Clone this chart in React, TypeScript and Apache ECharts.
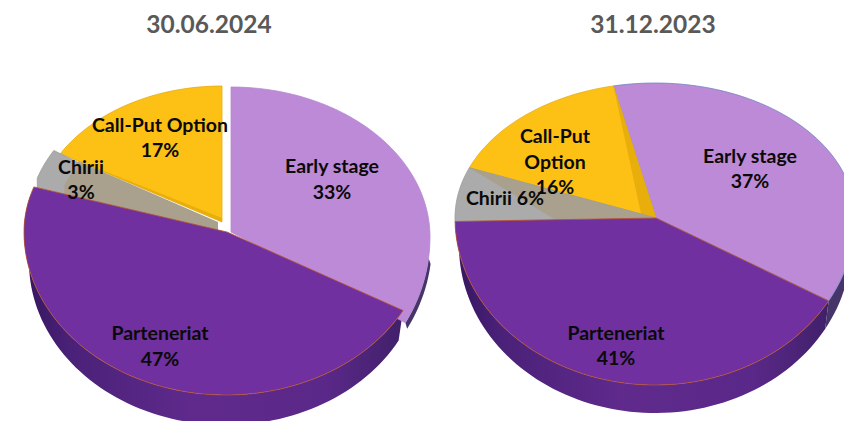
import React, { useEffect, useRef } from "react";
import * as echarts from "echarts";

const categories = ["Early stage", "Parteneriat", "Chirii", "Call-Put Option"];
const titles = ["30.06.2024", "31.12.2023"];
const valuesJun2024 = [33, 47, 3.4, 16.6];
const valuesDec2023 = [36.6, 41.4, 6.4, 15.6];
const labelsJun2024 = ["Early stage", "Parteneriat", "Chirii", "Call-Put Option"];
const labelsDec2023 = ["Early stage", "Parteneriat", "Chirii 6%", "Call-Put\nOption"];

const PURPLE = "#7030A0";
const colors = ["#BC8AD6", PURPLE, "#ABABAB", "#FDC014"];
const strokes = ["#B689D0", "#B8532A", "#9A9A9A", "#E6AC10"];
const zOrder = [2, 5, 4, 3];

type Geo = { ax: number; ay: number; cx: number; cy: number; a: number; top: number; bot: number; drop?: number };

const wallGradient = () =>
  new echarts.graphic.LinearGradient(0, 0, 1, 0, [
    { offset: 0, color: "#351660" },
    { offset: 0.12, color: "#4A2178" },
    { offset: 0.45, color: "#5F2A8C" },
    { offset: 0.8, color: "#5A2888" },
    { offset: 1, color: "#40206A" },
  ]);

const leftLayout = {
  startAngle: 0,
  geo: [
    { ax: 231, ay: 232, cx: 231, cy: 237, a: 199, top: 150, bot: 178 },
    { ax: 227, ay: 232, cx: 226, cy: 232, a: 202, top: 146, bot: 163 },
    { ax: 218, ay: 222, cx: 218, cy: 222, a: 190, top: 142, bot: 142, drop: 10 },
    { ax: 222, ay: 222, cx: 222, cy: 222, a: 187, top: 136, bot: 136 },
  ] as Geo[],
  wall: { depth: 30, inset: 5, earlyDepth: 6, earlyInset: -2, earlySweep: 22 },
  overlays: [
    { slice: 2, fill: "#A9A08E", pts: [["s", 0.85], ["e", 0.85], ["e", 0]] },
    { slice: 3, fill: "#E8AE0C", pts: [["s", 1], ["e", 0.03], ["e", 0]] },
  ],
  label: [
    [332, 178.5],
    [160, 345.5],
    [81, 179],
    [160, 137],
  ],
  earlyStroke: "#B689D0",
};

const rightLayout = {
  startAngle: -12,
  geo: [
    { ax: 656, ay: 218, cx: 655, cy: 218, a: 200, top: 135, bot: 167 },
    { ax: 656, ay: 218, cx: 655, cy: 218, a: 200, top: 135, bot: 167 },
    { ax: 656, ay: 218, cx: 655, cy: 218, a: 200, top: 135, bot: 167 },
    { ax: 656, ay: 218, cx: 655, cy: 218, a: 200, top: 135, bot: 167 },
  ] as Geo[],
  wall: { depth: 28, inset: 4, earlyDepth: 28, earlyInset: 4, earlySweep: 22 },
  overlays: [
    { slice: 2, fill: "#A9A08E", pts: [["s", 0.5], ["e", 1], ["e", 0]] },
    { slice: 3, fill: "#E8AE0C", pts: [["s", 0.08], ["e", 1], ["e", 0]] },
  ],
  label: [
    [750, 168],
    [616, 345],
    [505, 197],
    [555, 161],
  ],
  earlyStroke: "#7285C4",
};

const rad = (d: number) => (d * Math.PI) / 180;

function rimPoint(g: Geo, deg: number, inset = 0, shift = 0): number[] {
  const s = Math.sin(rad(deg));
  const c = Math.cos(rad(deg));
  return [g.cx + (g.a - inset) * s, g.cy - (c > 0 ? g.top : g.bot) * c + shift];
}

function arc(g: Geo, from: number, to: number, inset = 0, shift = 0): number[][] {
  const n = Math.max(8, Math.ceil(Math.abs(to - from) / 2));
  const out: number[][] = [];
  for (let i = 0; i <= n; i++) out.push(rimPoint(g, from + ((to - from) * i) / n, inset, shift));
  return out;
}

function makeSeries(values: number[], labels: string[], layout: any) {
  const total = values.reduce((s, v) => s + v, 0);
  let running = 0;
  const rows = values.map((v, i) => {
    const row = [v, running, i];
    running += v;
    return row;
  });
  return {
    type: "custom",
    coordinateSystem: "none",
    silent: true,
    clip: false,
    data: rows,
    renderItem: (_p: any, api: any) => {
      const value = api.value(0);
      const before = api.value(1);
      const i = api.value(2);
      const g: Geo = layout.geo[i];
      const from = layout.startAngle + (before / total) * 360;
      const to = from + (value / total) * 360;
      const apex = [g.ax, g.ay];
      const children: any[] = [];
      const w = layout.wall;
      if (i === 1) {
        const end = Math.min(to, 285);
        children.push({
          type: "polygon",
          z2: 0,
          shape: { points: [...arc(g, from, end), ...arc(g, end, from, w.inset, w.depth)] },
          style: { fill: wallGradient(), stroke: "none" },
        });
      }
      if (i === 0) {
        const start = to - w.earlySweep;
        children.push({
          type: "polygon",
          z2: 1,
          shape: { points: [...arc(g, start, to), ...arc(g, to, start, w.earlyInset, w.earlyDepth)] },
          style: { fill: "#463568", stroke: "none" },
        });
      }
      const rimFrom = arc(g, from, to);
      const under = g.drop
        ? [
            [apex[0], apex[1] + g.drop],
            [rimFrom[0][0], rimFrom[0][1] + g.drop],
          ]
        : [apex];
      children.push({
        type: "polygon",
        z2: zOrder[i],
        shape: { points: [...under, ...rimFrom] },
        style: {
          fill: colors[i],
          stroke: i === 0 ? layout.earlyStroke : strokes[i],
          lineWidth: 0.8,
          lineJoin: "round",
        },
      });
      layout.overlays
        .filter((o: any) => o.slice === i)
        .forEach((o: any) => {
          const pts = o.pts.map(([side, k]: [string, number]) => {
            const r = rimPoint(g, side === "s" ? from : to);
            return [apex[0] + (r[0] - apex[0]) * k, apex[1] + (r[1] - apex[1]) * k];
          });
          if (g.drop) pts.push([apex[0], apex[1] + g.drop], [pts[0][0], pts[0][1] + g.drop]);
          children.push({
            type: "polygon",
            z2: zOrder[i],
            shape: { points: pts },
            style: { fill: o.fill, stroke: "none" },
          });
        });
      const pct = `${Math.round((value / total) * 100)}%`;
      const name = labels[i];
      const text = name.includes("%") ? name : `${name}\n${pct}`;
      children.push({
        type: "text",
        z2: 50,
        style: {
          text,
          x: layout.label[i][0],
          y: layout.label[i][1],
          align: "center",
          verticalAlign: "middle",
          fontFamily: "Lato",
          fontWeight: "bold",
          fontSize: 19.5,
          lineHeight: 25.5,
          fill: "#0A0A0A",
        },
      });
      return { type: "group", children };
    },
  };
}

export default function App() {
  const ref = useRef<HTMLDivElement>(null);
  useEffect(() => {
    const chart = echarts.init(ref.current!, null, { renderer: "svg" });
    const titleStyle = { fontFamily: "Lato", fontWeight: "bold" as const, fontSize: 24.5, color: "#595959" };
    chart.setOption({
      animation: false,
      backgroundColor: "#FFFFFF",
      title: [
        { text: titles[0], left: 204, top: 6, textAlign: "center", textStyle: titleStyle },
        { text: titles[1], left: 648, top: 6, textAlign: "center", textStyle: titleStyle },
      ],
      series: [
        { name: titles[0], ...makeSeries(valuesJun2024, labelsJun2024, leftLayout) },
        { name: titles[1], ...makeSeries(valuesDec2023, labelsDec2023, rightLayout) },
      ],
    });
    return () => chart.dispose();
  }, []);
  return (
    <div
      ref={ref}
      aria-label={categories.join(", ")}
      style={{ position: "fixed", left: 0, top: 0, width: 844, height: 421 }}
    />
  );
}
